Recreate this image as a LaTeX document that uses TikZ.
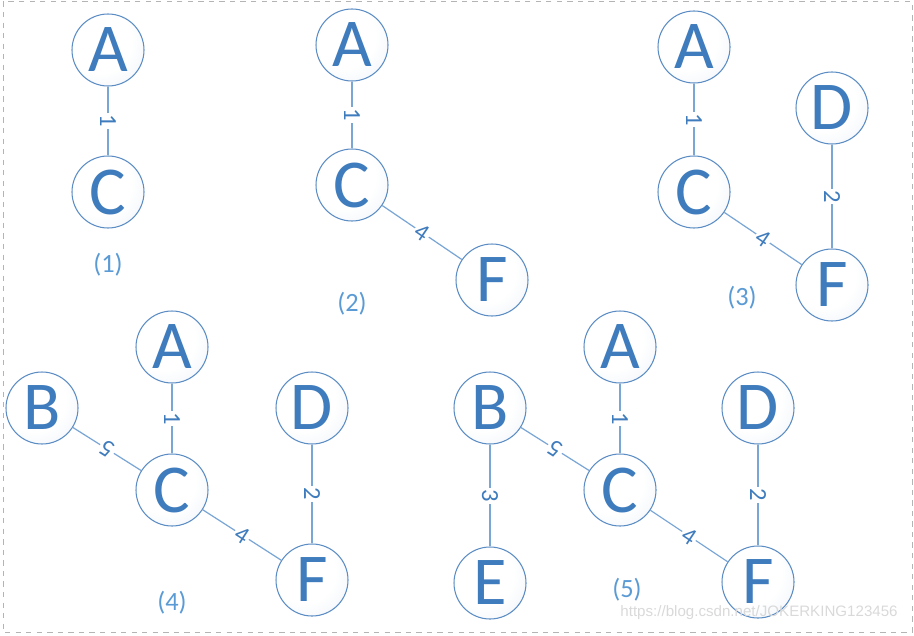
\documentclass[tikz,border=0pt]{standalone}
\usepackage{fontspec}
\setmainfont{Carlito}
\newfontfamily\marcaFuente{Liberation Sans}
\usetikzlibrary{shapes, arrows.meta, calc, positioning}
\definecolor{azulLetra}{HTML}{3F7CBD}
\definecolor{azulBorde}{HTML}{5B8CC4}
\definecolor{azulArista}{HTML}{7AA6D6}
\definecolor{azulPaso}{HTML}{5B9BD5}
\definecolor{azulClaro}{HTML}{DCE6F2}
\definecolor{grisMarca}{HTML}{D9D9D9}
\definecolor{grisBorde}{HTML}{B4B4B4}
\pgfdeclareradialshading{sombraNodo}{\pgfpoint{-8bp}{8bp}}{%
  color(0bp)=(white); color(22bp)=(white);
  color(58bp)=(azulClaro); color(80bp)=(azulClaro)}

\begin{document}
\begin{tikzpicture}[
  % Estilos de nodos
  nodoVertice/.style={
    circle, draw=azulBorde, line width=0.6pt,
    shading=sombraNodo, text=azulLetra,
    font=\fontsize{39}{39}\selectfont,
    minimum size=1.44cm, inner sep=0pt
  },
  etiqPaso/.style={
    font=\fontsize{15}{15}\selectfont, text=azulPaso
  },
  % Estilo de aristas
  arista/.style={
    draw=azulArista, line width=0.7pt
  },
  etiqPeso/.style={
    font=\fontsize{14}{14}\selectfont, text=azulLetra,
    fill=white, inner sep=1pt,
    midway, sloped, allow upside down
  }
]

% --- Marco ---
\useasboundingbox (0,0) rectangle (18.28,-12.70);
\draw[grisBorde, dashed, line width=0.5pt] (0.06,-0.03) rectangle (18.24,-12.64);

% --- Paso 1 ---
\node[nodoVertice] (a1) at (2.16,-1.00) {A};
\node[nodoVertice] (c1) at (2.16,-3.84) {C};
\node[etiqPaso]    (p1) at (2.16,-5.30) {(1)};

% --- Paso 2 ---
\node[nodoVertice] (a2) at (7.04,-0.90) {A};
\node[nodoVertice] (c2) at (7.04,-3.70) {C};
\node[nodoVertice] (f2) at (9.84,-5.60) {F};
\node[etiqPaso]    (p2) at (7.04,-6.08) {(2)};

% --- Paso 3 ---
\node[nodoVertice] (a3) at (13.88,-0.94) {A};
\node[nodoVertice] (d3) at (16.64,-2.16) {D};
\node[nodoVertice] (c3) at (13.88,-3.84) {C};
\node[nodoVertice] (f3) at (16.64,-5.70) {F};
\node[etiqPaso]    (p3) at (14.84,-5.96) {(3)};

% --- Paso 4 ---
\node[nodoVertice] (a4) at (3.44,-6.94) {A};
\node[nodoVertice] (b4) at (0.84,-8.16) {B};
\node[nodoVertice] (d4) at (6.24,-8.16) {D};
\node[nodoVertice] (c4) at (3.44,-9.80) {C};
\node[nodoVertice] (f4) at (6.24,-11.60) {F};
\node[etiqPaso]    (p4) at (3.44,-12.06) {(4)};

% --- Paso 5 ---
\node[nodoVertice] (a5) at (12.40,-6.94) {A};
\node[nodoVertice] (b5) at (9.80,-8.16) {B};
\node[nodoVertice] (d5) at (15.16,-8.16) {D};
\node[nodoVertice] (c5) at (12.40,-9.80) {C};
\node[nodoVertice] (e5) at (9.80,-11.66) {E};
\node[nodoVertice] (f5) at (15.16,-11.64) {F};
\node[etiqPaso]    (p5) at (12.54,-11.80) {(5)};

% --- Aristas ---
\draw[arista] (a1) -- (c1) node[etiqPeso] {1};

\draw[arista] (a2) -- (c2) node[etiqPeso] {1};
\draw[arista] (c2) -- (f2) node[etiqPeso] {4};

\draw[arista] (a3) -- (c3) node[etiqPeso] {1};
\draw[arista] (c3) -- (f3) node[etiqPeso] {4};
\draw[arista] (d3) -- (f3) node[etiqPeso] {2};

\draw[arista] (a4) -- (c4) node[etiqPeso] {1};
\draw[arista] (c4) -- (b4) node[etiqPeso] {5};
\draw[arista] (c4) -- (f4) node[etiqPeso] {4};
\draw[arista] (d4) -- (f4) node[etiqPeso] {2};

\draw[arista] (a5) -- (c5) node[etiqPeso] {1};
\draw[arista] (c5) -- (b5) node[etiqPeso] {5};
\draw[arista] (b5) -- (e5) node[etiqPeso] {3};
\draw[arista] (c5) -- (f5) node[etiqPeso] {4};
\draw[arista] (d5) -- (f5) node[etiqPeso] {2};

% --- Marca de agua ---
\node[font=\marcaFuente\fontsize{8.6}{8.6}\selectfont, text=grisMarca]
  (marca) at (15.18,-12.26) {https://blog.csdn.net/JOKERKING123456};

\end{tikzpicture}
\end{document}
